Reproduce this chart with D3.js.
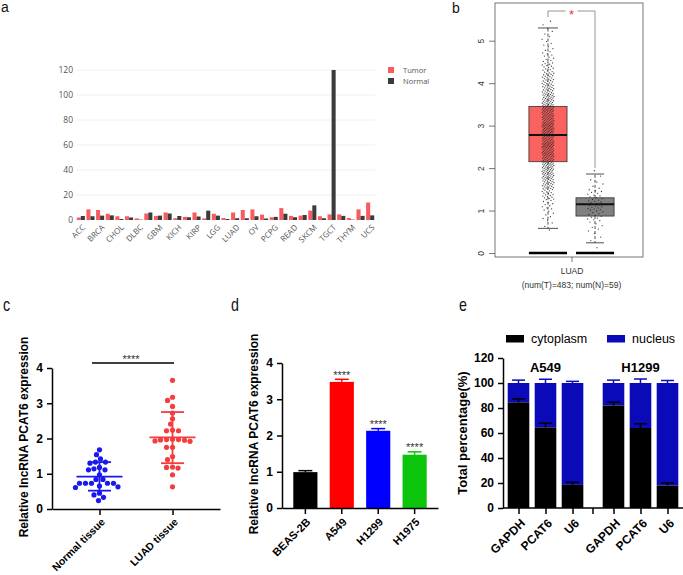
<!DOCTYPE html>
<html><head><meta charset="utf-8">
<script src="https://cdn.jsdelivr.net/npm/d3@7"></script>
<style>body{margin:0;background:#fff}svg{display:block}</style>
</head><body>
<svg id="fig" width="683" height="575"></svg>
<script>
// ---------- Panel a data ----------
const aCancers = ["ACC","BLCA","BRCA","CESC","CHOL","COAD","DLBC","ESCA","GBM","HNSC","KICH","KIRC","KIRP","LAML","LGG","LIHC","LUAD","LUSC","OV","PAAD","PCPG","PRAD","READ","SARC","SKCM","STAD","TGCT","THCA","THYM","UCEC","UCS"];
const aTumor  = [2.0,8.5,8.0,5.0,3.0,3.0,1.3,5.2,3.2,6.0,1.4,2.5,6.0,1.3,5.0,1.6,6.0,8.0,8.5,4.3,2.2,9.5,3.3,3.5,7.5,3.0,4.5,4.5,1.6,8.5,14.0];
const aNormal = [3.2,3.0,3.5,3.7,0.8,2.0,0.3,6.0,3.5,5.2,3.2,2.2,2.8,7.5,3.5,0.8,1.4,1.4,3.0,1.2,2.5,5.0,2.2,4.0,11.7,1.4,120,3.3,0.3,3.3,3.7];
const aTicks = [0,20,40,60,80,100,120];
const aSeries = ["Tumor","Normal"];

// ---------- Panel b data ----------
const bGroups = ["Tumor","Normal"];
const bTumorBox  = [0.58,2.15,2.78,3.45,5.30];   // low whisker, Q1, median, Q3, high whisker
const bNormalBox = [0.24,0.87,1.15,1.30,1.86];
const bTumorHistStart = 0.5, bNormalHistStart = 0.0, bBinWidth = 0.25;
const bTumorHist  = [3,6,10,18,28,35,38,41,43,46,43,41,33,26,22,16,10,6,4,3];
const bNormalHist = [1,3,6,12,18,12,5,2];
const bTicks = [0,1,2,3,4,5];

// ---------- Panel c data ----------
const cGroups = ["Normal tissue","LUAD tissue"];
const cNormal = [1.68,1.54,1.42,1.33,1.33,1.30,1.18,1.14,1.11,1.11,0.97,0.84,0.84,0.73,0.73,0.73,0.73,0.73,0.65,0.63,0.61,0.45,0.40,0.33,0.24];
const cLuad   = [3.65,3.17,3.08,2.91,2.72,2.56,2.41,2.24,2.22,2.22,1.98,1.97,1.97,1.96,1.95,1.93,1.92,1.75,1.75,1.49,1.40,1.19,1.18,1.16,0.97,0.63];
const cMean = [0.92,2.03];
const cSdLow = [0.52,1.30];
const cSdHigh = [1.33,2.75];
const cTicks = [0,1,2,3,4];

// ---------- Panel d data ----------
const dLines = ["BEAS-2B","A549","H1299","H1975"];
const dMeans = [0.99,3.48,2.13,1.47];
const dErr   = [0.04,0.07,0.06,0.08];
const dSig   = ["","****","****","****"];
const dTicks = [0,1,2,3,4];

// ---------- Panel e data ----------
const eGroups = ["A549","H1299"];
const eGenes = ["GAPDH","PCAT6","U6"];
const eCytoA549  = [84.5,64.5,18.5];
const eCytoH1299 = [82.0,64.0,18.0];
const eCytoErrA549  = [2.8,3.3,2.0];
const eCytoErrH1299 = [2.6,3.4,2.1];
const eNucErrA549  = [2.3,3.0,1.3];
const eNucErrH1299 = [2.3,3.2,2.0];
const eTicks = [0,20,40,60,80,100,120];
const eParts = ["cytoplasm","nucleus"];

// ======================================================
const svg = d3.select("#fig");
svg.append("rect").attr("width",683).attr("height",575).attr("fill","#fff");
const ARIAL = "'Liberation Sans', Arial, sans-serif";
const fmtInt = d3.format("d");

function letter(t,x,y,size,sx){
  svg.append("text").text(t).attr("transform",`translate(${x},${y}) scale(${sx},1)`)
    .attr("font-family",ARIAL).attr("font-size",size).attr("fill","#111");
}
letter("a",1,12,14,1);
letter("b",452,13,14,1);
letter("c",3,311,19,0.75);
letter("d",231,311,19,0.75);
letter("e",459,311,19,0.75);

// ================= Panel a =================
(function(){
  const g = svg.append("g");
  const x = d3.scaleBand().domain(aCancers).range([76,375]).paddingInner(0.16).paddingOuter(0.08);
  const xs = d3.scaleBand().domain(aSeries).range([0,x.bandwidth()]);
  const y = d3.scaleLinear().domain([0,120]).range([220,70]);
  const col = {Tumor:"#f95b5e", Normal:"#3b3b3b"};
  g.selectAll("line.grid").data(aTicks.slice(1)).join("line").attr("class","grid")
    .attr("x1",76).attr("x2",375).attr("y1",d=>y(d)).attr("y2",d=>y(d))
    .attr("stroke","#f0f0f0").attr("stroke-width",1);
  const yAx = g.append("g").attr("transform","translate(76,0)")
    .call(d3.axisLeft(y).tickValues(aTicks).tickFormat(fmtInt).tickSize(0).tickPadding(3));
  yAx.select(".domain").remove();
  yAx.selectAll("text").attr("font-family","'Open Sans', sans-serif").attr("font-size",8.5).attr("fill","#555");
  const rows = aCancers.map((c,i)=>({c, Tumor:aTumor[i], Normal:aNormal[i]}));
  const cg = g.selectAll("g.cat").data(rows).join("g").attr("transform",d=>`translate(${x(d.c)},0)`);
  cg.selectAll("rect").data(d=>aSeries.map(s=>({s,v:d[s]}))).join("rect")
    .attr("x",d=>xs(d.s)).attr("width",xs.bandwidth())
    .attr("y",d=>y(d.v)).attr("height",d=>y(0)-y(d.v)).attr("fill",d=>col[d.s]);
  const xAx = g.append("g").attr("transform","translate(0,220)")
    .call(d3.axisBottom(x).tickValues(aCancers.filter((c,i)=>i%2===0)).tickSize(0));
  xAx.select(".domain").remove();
  xAx.selectAll("text").attr("font-family","'Open Sans', sans-serif").attr("font-size",8).attr("fill","#555")
    .attr("x",0).attr("y",0).attr("dy","0.35em").attr("text-anchor","end")
    .attr("transform","translate(3,6) rotate(-45)");
  const lg = g.selectAll("g.leg").data(aSeries).join("g").attr("transform",(d,i)=>`translate(388,${67+i*11})`);
  lg.append("rect").attr("width",6).attr("height",6).attr("fill",d=>col[d]);
  lg.append("text").text(d=>d).attr("x",15).attr("y",5.5).attr("font-family","'Open Sans', sans-serif")
    .attr("font-size",7.5).attr("fill","#555");
})();

// ================= Panel b =================
(function(){
  const g = svg.append("g");
  const y = d3.scaleLinear().domain([0,5]).range([253,40.7]);
  const x = d3.scaleBand().domain(bGroups).range([519.5,623.5]).paddingInner(0.19).paddingOuter(0.2);
  g.append("rect").attr("x",495).attr("y",3).attr("width",148).attr("height",254)
    .attr("fill","none").attr("stroke","#555").attr("stroke-width",0.8);
  const yAx = g.append("g").attr("transform","translate(495,0)")
    .call(d3.axisLeft(y).tickValues(bTicks).tickFormat(fmtInt).tickSize(6).tickPadding(9));
  yAx.select(".domain").remove();
  yAx.selectAll("line").attr("stroke","#555").attr("stroke-width",0.8);
  yAx.selectAll("text").attr("font-family",ARIAL).attr("font-size",8.5).attr("fill","#333")
    .attr("text-anchor","middle").attr("dy",0).attr("x",0).attr("y",0)
    .attr("transform","translate(-11,0) rotate(-90)");
  const cx = (x("Tumor")+x.bandwidth()/2 + x("Normal")+x.bandwidth()/2)/2;
  const xAx = g.append("g").attr("transform","translate(0,257)")
    .call(d3.axisBottom(d3.scalePoint().domain(["LUAD"]).range([cx,cx])).tickSize(5).tickPadding(6));
  xAx.select(".domain").remove();
  xAx.selectAll("line").attr("stroke","#555").attr("stroke-width",0.8);
  xAx.selectAll("text").attr("font-family",ARIAL).attr("font-size",8.5).attr("fill","#333");
  g.append("text").text("(num(T)=483; num(N)=59)").attr("x",cx).attr("y",288)
    .attr("text-anchor","middle").attr("font-family",ARIAL).attr("font-size",8.5).attr("fill","#333");

  const boxes = [{k:"Tumor",s:bTumorBox,fill:"#f9625f",hist:bTumorHist,start:bTumorHistStart,jw:6,cap:10},
                 {k:"Normal",s:bNormalBox,fill:"#808080",hist:bNormalHist,start:bNormalHistStart,jw:8,cap:9}];
  boxes.forEach(b=>{
    const x0 = x(b.k), w = x.bandwidth(), c = x0+w/2;
    g.append("line").attr("x1",c).attr("x2",c).attr("y1",y(b.s[3])).attr("y2",y(b.s[4]))
      .attr("stroke","#222").attr("stroke-width",0.8).attr("stroke-dasharray","3,2");
    g.append("line").attr("x1",c).attr("x2",c).attr("y1",y(b.s[1])).attr("y2",y(b.s[0]))
      .attr("stroke","#222").attr("stroke-width",0.8).attr("stroke-dasharray","3,2");
    [b.s[0],b.s[4]].forEach(v=>g.append("line").attr("x1",c-b.cap).attr("x2",c+b.cap)
      .attr("y1",y(v)).attr("y2",y(v)).attr("stroke","#222").attr("stroke-width",0.8));
    g.append("rect").attr("x",x0).attr("width",w).attr("y",y(b.s[3])).attr("height",y(b.s[1])-y(b.s[3]))
      .attr("fill",b.fill).attr("stroke","#333").attr("stroke-width",0.8);
    g.append("line").attr("x1",x0).attr("x2",x0+w).attr("y1",y(b.s[2])).attr("y2",y(b.s[2]))
      .attr("stroke","#111").attr("stroke-width",2);
    g.append("line").attr("x1",x0).attr("x2",x0+w).attr("y1",y(0)).attr("y2",y(0))
      .attr("stroke","#000").attr("stroke-width",2.6);
    const pts=[]; let idx=0;
    b.hist.forEach((n,i)=>{
      for(let k=0;k<n;k++){
        const v = b.start + i*bBinWidth + (k+0.5)/n*bBinWidth;
        const f = ((idx+1)*0.6180339887)%1; idx++;
        pts.push({v, dx:(f-0.5)*2*b.jw});
      }
    });
    g.append("g").selectAll("circle").data(pts).join("circle")
      .attr("cx",d=>c+d.dx).attr("cy",d=>y(d.v)).attr("r",0.65).attr("fill","#222").attr("fill-opacity",0.85);
  });
  const cT = x("Tumor")+x.bandwidth()/2, cN = x("Normal")+x.bandwidth()/2, mid=(cT+cN)/2;
  g.append("path").attr("d",`M${cT},17V11H${mid-6}M${mid+6},11H${cN}V${y(bNormalBox[4])-6}`)
    .attr("fill","none").attr("stroke","#888").attr("stroke-width",0.9);
  g.append("text").text("*").attr("x",mid).attr("y",19).attr("text-anchor","middle")
    .attr("font-family",ARIAL).attr("font-size",13).attr("fill","#e8312f");
})();

function styleAxis(ax, fs){
  ax.selectAll("line").attr("stroke","#000").attr("stroke-width",1.5);
  ax.select(".domain").attr("stroke","#000").attr("stroke-width",1.5);
  ax.selectAll("text").attr("font-family",ARIAL).attr("font-weight","bold").attr("font-size",fs).attr("fill","#000");
}
function rotLabels(ax, dx, dy){
  ax.selectAll("text").attr("x",0).attr("y",0).attr("dy","0.35em").attr("text-anchor","end")
    .attr("transform",`translate(${dx},${dy}) rotate(-45)`);
}
function yTitle(t,x,y,fs){
  svg.append("text").text(t).attr("transform",`translate(${x},${y}) rotate(-90)`).attr("text-anchor","middle")
    .attr("font-family",ARIAL).attr("font-weight","bold").attr("font-size",fs).attr("fill","#000");
}

// ================= Panel c =================
(function(){
  const g = svg.append("g");
  const y = d3.scaleLinear().domain([0,4]).range([509,368]);
  const x = d3.scalePoint().domain(cGroups).range([52,220]).padding(0.65);
  const yAx = g.append("g").attr("transform","translate(52,0)").call(d3.axisLeft(y).tickValues(cTicks).tickFormat(fmtInt).tickSize(5).tickSizeOuter(0).tickPadding(4));
  styleAxis(yAx,12);
  const xAx = g.append("g").attr("transform","translate(0,509)").call(d3.axisBottom(x).tickSize(6).tickSizeOuter(0));
  styleAxis(xAx,10.5);
  rotLabels(xAx,3,11);
  yTitle("Relative lncRNA PCAT6 expression",28,437,12);
  const r=2.6;
  function swarm(vals){
    const s = vals.map(v=>({v,y:y(v)})).sort((a,b)=>a.y-b.y);
    const placed=[];
    s.forEach(p=>{
      for(let k=0;k<400;k++){
        const off=(k%2===0?1:-1)*Math.ceil(k/2)*0.5;
        if(placed.every(q=>(q.x-off)**2+(q.y-p.y)**2>=(2*r+0.4)**2)){p.x=off;break;}
      }
      placed.push(p);
    });
    return s;
  }
  const cols=["#1919ee","#f43d3d"];
  [cNormal,cLuad].forEach((vals,i)=>{
    const cx=x(cGroups[i]);
    g.append("g").selectAll("circle").data(swarm(vals)).join("circle")
      .attr("cx",d=>cx+d.x).attr("cy",d=>d.y).attr("r",r).attr("fill",cols[i]);
    const lg=g.append("g").attr("stroke",cols[i]).attr("stroke-width",1.8);
    lg.append("line").attr("x1",cx-23).attr("x2",cx+23).attr("y1",y(cMean[i])).attr("y2",y(cMean[i]));
    lg.append("line").attr("x1",cx-11.5).attr("x2",cx+11.5).attr("y1",y(cSdLow[i])).attr("y2",y(cSdLow[i]));
    lg.append("line").attr("x1",cx-11.5).attr("x2",cx+11.5).attr("y1",y(cSdHigh[i])).attr("y2",y(cSdHigh[i]));
    lg.append("line").attr("x1",cx).attr("x2",cx).attr("y1",y(cSdLow[i])).attr("y2",y(cSdHigh[i]));
  });
  g.append("line").attr("x1",92).attr("x2",174).attr("y1",363).attr("y2",363).attr("stroke","#000").attr("stroke-width",1.3);
  g.append("text").text("****").attr("x",131).attr("y",363).attr("text-anchor","middle")
    .attr("font-family",ARIAL).attr("font-size",11).attr("fill","#333");
})();

// ================= Panel d =================
(function(){
  const g = svg.append("g");
  const y = d3.scaleLinear().domain([0,4]).range([508,363]);
  const x = d3.scaleBand().domain(dLines).range([282,438]).paddingInner(0.337).paddingOuter(0.31);
  const cols=["#000000","#ff0000","#0000ff","#0cc40c"];
  dLines.forEach((c,i)=>{
    const x0=x(c), w=x.bandwidth(), cx=x0+w/2;
    g.append("line").attr("x1",cx).attr("x2",cx).attr("y1",y(dMeans[i])).attr("y2",y(dMeans[i]+dErr[i]))
      .attr("stroke",cols[i]).attr("stroke-width",1.5);
    g.append("line").attr("x1",cx-7).attr("x2",cx+7).attr("y1",y(dMeans[i]+dErr[i])).attr("y2",y(dMeans[i]+dErr[i]))
      .attr("stroke",cols[i]).attr("stroke-width",1.5);
    g.append("rect").attr("x",x0).attr("width",w).attr("y",y(dMeans[i])).attr("height",y(0)-y(dMeans[i])).attr("fill",cols[i]);
    if(dSig[i]) g.append("text").text(dSig[i]).attr("x",cx).attr("y",y(dMeans[i]+dErr[i])-0.5)
      .attr("text-anchor","middle").attr("font-family",ARIAL).attr("font-size",11).attr("fill","#333");
  });
  const yAx = g.append("g").attr("transform","translate(282,0)").call(d3.axisLeft(y).tickValues(dTicks).tickFormat(fmtInt).tickSize(5).tickSizeOuter(0).tickPadding(4));
  styleAxis(yAx,12);
  const xAx = g.append("g").attr("transform","translate(0,508)").call(d3.axisBottom(x).tickSize(6).tickSizeOuter(0));
  styleAxis(xAx,11);
  rotLabels(xAx,3,12);
  yTitle("Relative lncRNA PCAT6 expression",258,434,12);
})();

// ================= Panel e =================
(function(){
  const g = svg.append("g");
  const y = d3.scaleLinear().domain([0,120]).range([508,358]);
  const xg = d3.scaleBand().domain(eGroups).range([503,683]).paddingInner(0.147).paddingOuter(0.021);
  const xi = d3.scaleBand().domain(eGenes).range([0,xg.bandwidth()]).paddingInner(0.2).paddingOuter(0.1);
  const cyto = {A549:eCytoA549, H1299:eCytoH1299};
  const cErr = {A549:eCytoErrA549, H1299:eCytoErrH1299};
  const nErr = {A549:eNucErrA549, H1299:eNucErrH1299};
  const blue="#0a0ab8";
  eGroups.forEach(gr=>{
    eGenes.forEach((gene,j)=>{
      const x0=xg(gr)+xi(gene), w=xi.bandwidth(), cx=x0+w/2;
      const cv=cyto[gr][j];
      g.append("line").attr("x1",cx).attr("x2",cx).attr("y1",y(100)).attr("y2",y(100+nErr[gr][j])).attr("stroke",blue).attr("stroke-width",1.5);
      g.append("line").attr("x1",cx-6.5).attr("x2",cx+6.5).attr("y1",y(100+nErr[gr][j])).attr("y2",y(100+nErr[gr][j])).attr("stroke",blue).attr("stroke-width",1.5);
      g.append("rect").attr("x",x0).attr("width",w).attr("y",y(100)).attr("height",y(cv)-y(100)).attr("fill",blue);
      g.append("rect").attr("x",x0).attr("width",w).attr("y",y(cv)).attr("height",y(0)-y(cv)).attr("fill","#000");
      g.append("line").attr("x1",cx).attr("x2",cx).attr("y1",y(cv)).attr("y2",y(cv+cErr[gr][j])).attr("stroke","#000").attr("stroke-width",1.5);
      g.append("line").attr("x1",cx-6.5).attr("x2",cx+6.5).attr("y1",y(cv+cErr[gr][j])).attr("y2",y(cv+cErr[gr][j])).attr("stroke","#000").attr("stroke-width",1.5);
    });
    g.append("text").text(gr).attr("x",xg(gr)+xg.bandwidth()/2).attr("y",372).attr("text-anchor","middle")
      .attr("font-family",ARIAL).attr("font-weight","bold").attr("font-size",13).attr("fill","#000");
  });
  const yAx = g.append("g").attr("transform","translate(503,0)").call(d3.axisLeft(y).tickValues(eTicks).tickFormat(fmtInt).tickSize(5).tickSizeOuter(0).tickPadding(4));
  styleAxis(yAx,12);
  const tickRows=[]; eGroups.forEach(gr=>eGenes.forEach(gene=>tickRows.push({gr,gene,x:xg(gr)+xi(gene)+xi.bandwidth()/2})));
  const xAxScale = d3.scaleOrdinal().domain(tickRows.map(d=>d.gr+"|"+d.gene)).range(tickRows.map(d=>d.x));
  const xAx = g.append("g").attr("transform","translate(0,508)")
    .call(d3.axisBottom(xAxScale).tickSize(6).tickFormat(d=>d.split("|")[1]));
  xAx.select(".domain").remove();
  g.append("line").attr("x1",503).attr("x2",683).attr("y1",508).attr("y2",508).attr("stroke","#000").attr("stroke-width",1.5);
  const gapX = (xg(eGroups[0])+xg.bandwidth()+xg(eGroups[1]))/2;
  g.append("line").attr("x1",gapX).attr("x2",gapX).attr("y1",508).attr("y2",514).attr("stroke","#000").attr("stroke-width",1.5);
  styleAxis(xAx,12);
  rotLabels(xAx,4,13);
  yTitle("Total percentage(%)",467,433,13);
  const lg = g.selectAll("g.leg").data(eParts).join("g").attr("transform",(d,i)=>`translate(${506+i*101},335)`);
  lg.append("rect").attr("width",18).attr("height",7.5).attr("fill",(d,i)=>i?blue:"#000");
  lg.append("text").text(d=>d).attr("x",25).attr("y",8).attr("font-family",ARIAL).attr("font-size",12.5).attr("fill","#000");
})();
</script>
</body></html>
